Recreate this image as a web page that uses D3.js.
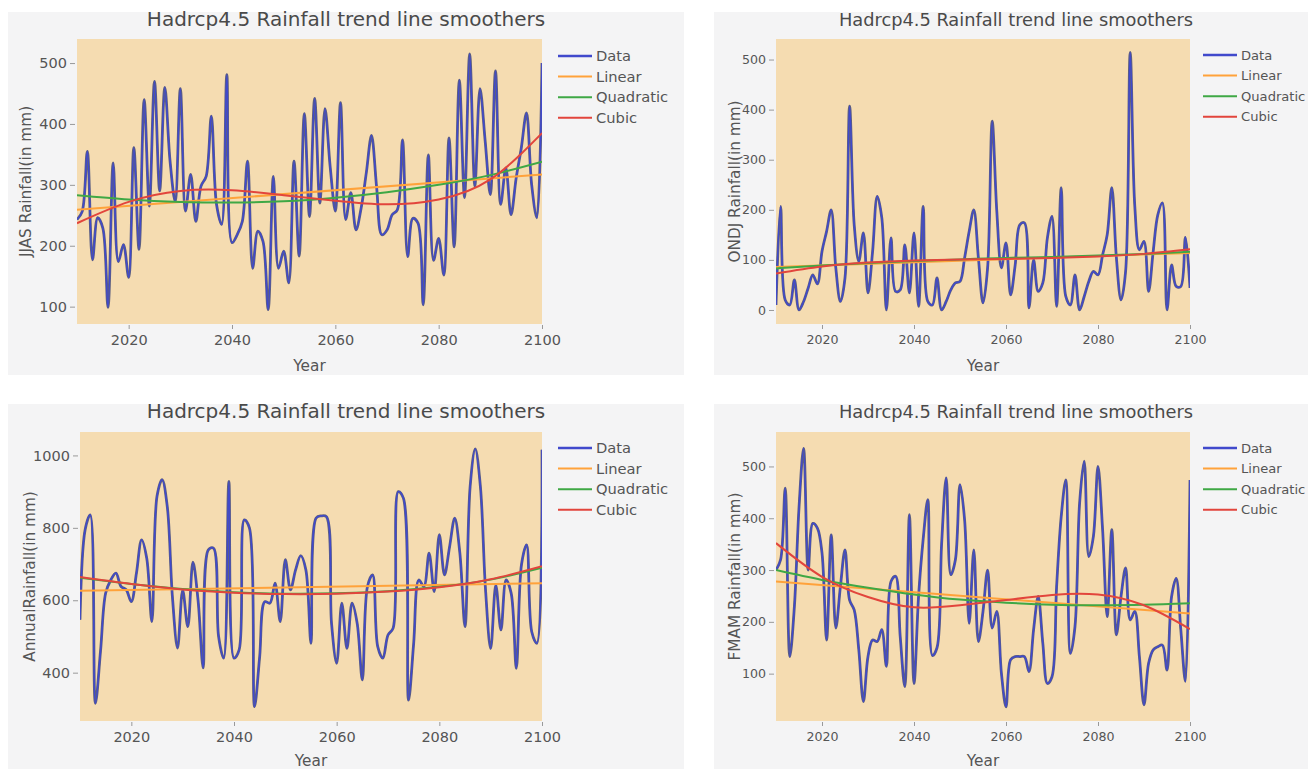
<!DOCTYPE html>
<html>
<head>
<meta charset="utf-8">
<script src="https://cdn.jsdelivr.net/npm/d3@7"></script>
<style>
  body { margin: 0; background: #ffffff; }
  svg { display: block; font-family: "DejaVu Sans", Verdana, sans-serif; }
</style>
</head>
<body>
<svg id="svg" width="1308" height="769"></svg>
<script>
// DATA //

const years = d3.range(2010, 2101);
const trendYears = [2010, 2020, 2030, 2040, 2050, 2060, 2070, 2080, 2090, 2100];
const linYears = [2010, 2100];
const seriesNames = ["Data", "Linear", "Quadratic", "Cubic"];

// JJAS rainfall (mm)
const jjas = [243, 256, 355, 177, 246, 229, 99, 336, 174, 202,
  148, 361, 194, 440, 265, 470, 290, 460, 340, 273,
  458, 257, 317, 240, 298, 314, 413, 268, 235, 481,
  205, 218, 240, 339, 163, 224, 207, 95, 314, 163,
  191, 139, 339, 183, 417, 248, 442, 270, 425, 330,
  257, 435, 243, 287, 226, 262, 320, 381, 295, 218,
  226, 251, 259, 374, 182, 245, 237, 103, 349, 176,
  212, 152, 377, 198, 472, 279, 515, 298, 458, 372,
  284, 487, 268, 328, 251, 311, 361, 418, 300, 246,
  500];
const jjasLinear = [259, 317];
const jjasQuad = [283, 276, 272, 271, 273, 279, 288, 300, 316, 338];
const jjasCubic = [237, 272, 290, 291, 283, 274, 268, 276, 309, 385];

// ONDJ rainfall (mm)
const ondj = [10, 207, 20, 10, 60, 0, 17, 44, 70, 52,
  117, 157, 200, 84, 17, 64, 407, 170, 97, 154,
  34, 117, 227, 184, 0, 144, 37, 40, 130, 34,
  154, 7, 207, 17, 10, 64, 0, 17, 40, 54,
  57, 104, 157, 200, 104, 14, 84, 377, 197, 84,
  134, 30, 90, 170, 174, 4, 100, 37, 54, 144,
  187, 7, 244, 27, 10, 70, 0, 27, 57, 77,
  70, 110, 150, 244, 104, 20, 77, 514, 207, 120,
  137, 37, 117, 190, 214, 0, 90, 47, 47, 145,
  44];
const ondjLinear = [86, 114];
const ondjQuad = [83, 89, 94, 98, 101, 104, 106, 109, 112, 116];
const ondjCubic = [73, 87, 95, 99, 101, 102, 104, 107, 112, 121];

// Annual rainfall (mm)
const annual = [546, 795, 836, 315, 460, 620, 656, 675, 638, 629,
  596, 675, 767, 716, 541, 887, 933, 859, 610, 468,
  628, 527, 705, 600, 413, 739, 744, 500, 440, 928,
  440, 463, 822, 800, 306, 444, 596, 592, 647, 541,
  712, 629, 684, 723, 684, 481, 827, 833, 831, 536,
  426, 592, 467, 592, 536, 380, 638, 670, 472, 440,
  504, 523, 900, 882, 324, 481, 656, 638, 730, 624,
  781, 670, 748, 827, 730, 527, 914, 1018, 914, 629,
  467, 642, 518, 656, 619, 412, 698, 753, 513, 481,
  1016];
const annualLinear = [626, 647];
const annualQuad = [662, 645, 631, 622, 618, 619, 625, 637, 657, 690];
const annualCubic = [664, 645, 630, 621, 617, 618, 624, 636, 658, 694];

// FMAM rainfall (mm)
const fmam = [300, 320, 458, 133, 230, 420, 535, 300, 390, 381,
  333, 165, 368, 188, 268, 339, 242, 223, 146, 46,
  133, 165, 162, 185, 114, 278, 288, 172, 75, 407,
  81, 250, 360, 436, 135, 150, 350, 478, 291, 320,
  465, 397, 197, 339, 162, 220, 300, 188, 220, 101,
  36, 127, 133, 133, 133, 104, 185, 249, 159, 81,
  94, 268, 403, 474, 139, 191, 429, 510, 326, 365,
  500, 378, 210, 378, 175, 249, 304, 204, 220, 133,
  40, 120, 146, 152, 155, 107, 249, 284, 185, 85,
  474];
const fmamLinear = [278, 216];
const fmamQuad = [300, 281, 266, 253, 243, 237, 233, 232, 233, 236];
const fmamCubic = [352, 287, 248, 228, 232, 242, 252, 253, 232, 186];

// LAYOUT //

const colors = {Data: "#4049cc", Linear: "#ffa23a", Quadratic: "#3fa845", Cubic: "#e2453c"};
const titleText = "Hadrcp4.5 Rainfall trend line smoothers";

// font sizes for the wide (left) and narrow (right) panels
const fontLeft = {title: 20, tick: 14.5, axis: 15.3, legend: 14.7};
const fontRight = {title: 17.8, tick: 12.6, axis: 15.3, legend: 13.1};

const panels = [
  {data: jjas, lin: jjasLinear, quad: jjasQuad, cub: jjasCubic, ylabel: "JJAS Rainfall(in mm)",
   box: [8, 12, 684, 375], plot: [77, 39, 542, 324], ydom: [71.5, 539.5], yticks: [100, 200, 300, 400, 500],
   font: fontLeft, ylabX: 31, titleX: 346, legX: 558, legY: 56, yearY: 371},
  {data: ondj, lin: ondjLinear, quad: ondjQuad, cub: ondjCubic, ylabel: "ONDJ Rainfall(in mm)",
   box: [714, 12, 1308, 375], plot: [776, 39, 1190, 324], ydom: [-28, 541], yticks: [0, 100, 200, 300, 400, 500],
   font: fontRight, ylabX: 740, titleX: 1016, legX: 1203, legY: 55, yearY: 371},
  {data: annual, lin: annualLinear, quad: annualQuad, cub: annualCubic, ylabel: "AnnualRainfall(in mm)",
   box: [8, 404, 684, 769], plot: [80, 432, 542, 721], ydom: [266.5, 1064.7], yticks: [400, 600, 800, 1000],
   font: fontLeft, ylabX: 35, titleX: 346, legX: 558, legY: 448, yearY: 766},
  {data: fmam, lin: fmamLinear, quad: fmamQuad, cub: fmamCubic, ylabel: "FMAM Rainfall(in mm)",
   box: [714, 404, 1308, 769], plot: [776, 432, 1190, 721], ydom: [8.6, 566.5], yticks: [100, 200, 300, 400, 500],
   font: fontRight, ylabX: 740, titleX: 1016, legX: 1203, legY: 448, yearY: 766}
];

const svg = d3.select("#svg");

function drawPanel(p) {
  const [bx0, by0, bx1, by1] = p.box;
  const [px0, py0, px1, py1] = p.plot;
  const f = p.font;

  // panel background
  svg.append("rect")
    .attr("x", bx0).attr("y", by0)
    .attr("width", bx1 - bx0).attr("height", by1 - by0)
    .attr("fill", "#f4f4f5");

  // plot background
  svg.append("rect")
    .attr("x", px0).attr("y", py0)
    .attr("width", px1 - px0).attr("height", py1 - py0)
    .attr("fill", "#f5dcb1");

  const x = d3.scaleLinear().domain([2010, 2100]).range([px0, px1]);
  const y = d3.scaleLinear().domain(p.ydom).range([py1, py0]);

  // title
  svg.append("text")
    .attr("x", p.titleX)
    .attr("y", by0 + 14)
    .attr("text-anchor", "middle")
    .attr("fill", "#4a4a4a")
    .style("font-size", f.title + "px")
    .text(titleText);

  // axes
  const xAxis = svg.append("g")
    .attr("transform", `translate(0,${py1 + 1})`)
    .call(d3.axisBottom(x).tickValues([2020, 2040, 2060, 2080, 2100]).tickFormat(d3.format("d"))
      .tickSize(4).tickPadding(6));
  const yAxis = svg.append("g")
    .attr("transform", `translate(${px0 - 2},0)`)
    .call(d3.axisLeft(y).tickValues(p.yticks).tickFormat(d3.format("d")).tickSize(5).tickPadding(3));

  [xAxis, yAxis].forEach(a => {
    a.select(".domain").remove();
    a.selectAll("line").attr("stroke", "#999");
    a.selectAll("text").attr("fill", "#555")
      .style("font-size", f.tick + "px")
      .style("font-family", "\"DejaVu Sans\", sans-serif");
  });

  // axis titles
  svg.append("text")
    .attr("x", (px0 + px1) / 2)
    .attr("y", p.yearY)
    .attr("text-anchor", "middle")
    .attr("fill", "#555")
    .style("font-size", f.axis + "px")
    .text("Year");

  svg.append("text")
    .attr("transform", `translate(${p.ylabX},${(py0 + py1) / 2}) rotate(-90)`)
    .attr("text-anchor", "middle")
    .attr("fill", "#555")
    .style("font-size", f.axis + "px")
    .text(p.ylabel);

  // lines
  const clipId = "clip" + px0 + "_" + py0;
  svg.append("clipPath").attr("id", clipId)
    .append("rect").attr("x", px0).attr("y", py0).attr("width", px1 - px0).attr("height", py1 - py0);

  const g = svg.append("g").attr("clip-path", `url(#${clipId})`);

  const dataLine = d3.line().x((d, i) => x(years[i])).y(d => y(d)).curve(d3.curveCatmullRom.alpha(0.5));
  const trendLine = d3.line().x((d, i) => x(trendYears[i])).y(d => y(d)).curve(d3.curveNatural);
  const linLine = d3.line().x((d, i) => x(linYears[i])).y(d => y(d));

  g.append("path").datum(p.data)
    .attr("d", dataLine).attr("fill", "none")
    .attr("stroke", "#5d5f80").attr("stroke-width", 2.8).attr("stroke-linejoin", "round");
  g.append("path").datum(p.data)
    .attr("d", dataLine).attr("fill", "none")
    .attr("stroke", colors.Data).attr("stroke-width", 1.5).attr("stroke-linejoin", "round");

  g.append("path").datum(p.lin)
    .attr("d", linLine).attr("fill", "none")
    .attr("stroke", colors.Linear).attr("stroke-width", 2);
  g.append("path").datum(p.quad)
    .attr("d", trendLine).attr("fill", "none")
    .attr("stroke", colors.Quadratic).attr("stroke-width", 2);
  g.append("path").datum(p.cub)
    .attr("d", trendLine).attr("fill", "none")
    .attr("stroke", colors.Cubic).attr("stroke-width", 2);

  // legend
  const rowH = 20.6;
  const legend = svg.append("g").attr("transform", `translate(${p.legX},${p.legY})`);
  seriesNames.forEach((name, i) => {
    legend.append("line")
      .attr("x1", 0).attr("x2", 34)
      .attr("y1", i * rowH).attr("y2", i * rowH)
      .attr("stroke", colors[name])
      .attr("stroke-width", name === "Data" ? 2.5 : 2);
    legend.append("text")
      .attr("x", 38).attr("y", i * rowH)
      .attr("dy", "0.35em")
      .attr("fill", "#555")
      .style("font-size", f.legend + "px")
      .text(name);
  });
}

panels.forEach(drawPanel);
</script>
</body>
</html>
